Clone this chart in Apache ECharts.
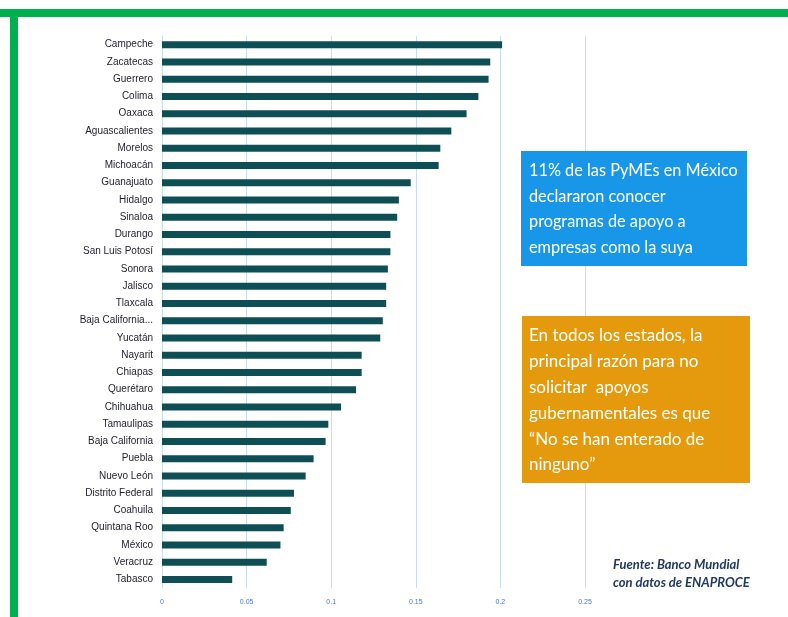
<!DOCTYPE html>
<html>
<head>
<meta charset="utf-8">
<style>
  html, body { margin: 0; padding: 0; background: #fff; }
  #main { width: 788px; height: 617px; }
</style>
</head>
<body>
<div id="main"></div>
<script src="https://cdn.jsdelivr.net/npm/echarts@6/dist/echarts.min.js"></script>
<script type="text/javascript">
    var estados = ['Campeche', 'Zacatecas', 'Guerrero', 'Colima', 'Oaxaca', 'Aguascalientes',
        'Morelos', 'Michoacán', 'Guanajuato', 'Hidalgo', 'Sinaloa', 'Durango', 'San Luis Potosí',
        'Sonora', 'Jalisco', 'Tlaxcala', 'Baja California...', 'Yucatán', 'Nayarit', 'Chiapas',
        'Querétaro', 'Chihuahua', 'Tamaulipas', 'Baja California', 'Puebla', 'Nuevo León',
        'Distrito Federal', 'Coahuila', 'Quintana Roo', 'México', 'Veracruz', 'Tabasco'];
    var valores = [0.201, 0.194, 0.193, 0.187, 0.180, 0.171,
        0.1645, 0.1635, 0.147, 0.140, 0.139, 0.135, 0.135,
        0.1335, 0.1325, 0.1325, 0.1305, 0.129, 0.118, 0.118,
        0.1147, 0.1058, 0.0983, 0.0967, 0.0896, 0.0849,
        0.078, 0.0761, 0.0719, 0.070, 0.0619, 0.0415];
    var ticksX = [0, 0.05, 0.1, 0.15, 0.2, 0.25];

    var nota1 = ['11% de las PyMEs en México', 'declararon conocer', 'programas de apoyo a', 'empresas como la suya'];
    var nota2 = ['En todos los estados, la', 'principal razón para no', 'solicitar  apoyos', 'gubernamentales es que', '“No se han enterado de', 'ninguno”'];
    var fuente = ['Fuente: Banco Mundial', 'con datos de ENAPROCE'];

    var chart = echarts.init(document.getElementById('main'));

    var option = {
        animation: false,
        grid: { left: 162, right: 203, top: 36, bottom: 29 },
        xAxis: {
            type: 'value',
            min: ticksX[0],
            max: ticksX[ticksX.length - 1],
            interval: 0.05,
            axisLine: { show: false },
            axisTick: { show: false },
            splitLine: { lineStyle: { color: '#c9dcf5', width: 1 } },
            axisLabel: {
                margin: 11,
                fontSize: 7,
                color: '#4a78d0',
                fontFamily: 'Liberation Sans',
                formatter: function (v) { return String(Math.round(v * 100) / 100); }
            }
        },
        yAxis: {
            type: 'category',
            inverse: true,
            data: estados,
            axisLine: { show: true, lineStyle: { color: '#c9dcf5', width: 1 } },
            axisTick: { show: false },
            axisLabel: {
                margin: 9,
                fontSize: 10,
                color: '#1d1d2b',
                fontFamily: 'Liberation Sans'
            }
        },
        series: [{
            type: 'bar',
            data: valores,
            barWidth: 7,
            itemStyle: { color: '#0e4f55' }
        }],
        graphic: [
            // marco verde
            { type: 'rect', z: 100, shape: { x: 0, y: 9, width: 788, height: 8 }, style: { fill: '#00b050' } },
            { type: 'rect', z: 100, shape: { x: 10, y: 9, width: 8, height: 608 }, style: { fill: '#00b050' } },
            // cuadro azul
            { type: 'rect', z: 100, shape: { x: 521, y: 151, width: 226, height: 115 }, style: { fill: '#1897e8' } },
            {
                type: 'text', z: 101, x: 529, y: 158,
                style: {
                    text: nota1.join('\n'), fill: '#fff', fontSize: 16.3, lineHeight: 25.5,
                    fontFamily: 'Lato', verticalAlign: 'top'
                }
            },
            // cuadro naranja
            { type: 'rect', z: 100, shape: { x: 522, y: 316, width: 228, height: 167 }, style: { fill: '#e59a0e' } },
            {
                type: 'text', z: 101, x: 529, y: 323,
                style: {
                    text: nota2.join('\n'), fill: '#fff', fontSize: 17, lineHeight: 25.8,
                    fontFamily: 'Lato', verticalAlign: 'top'
                }
            },
            {
                type: 'text', z: 101, x: 613, y: 556,
                style: {
                    text: fuente.join('\n'), fill: '#1f3864', fontSize: 13, lineHeight: 18,
                    fontFamily: 'Lato', fontStyle: 'italic', fontWeight: 'bold', verticalAlign: 'top'
                }
            }
        ]
    };

    chart.setOption(option);
</script>
</body>
</html>
